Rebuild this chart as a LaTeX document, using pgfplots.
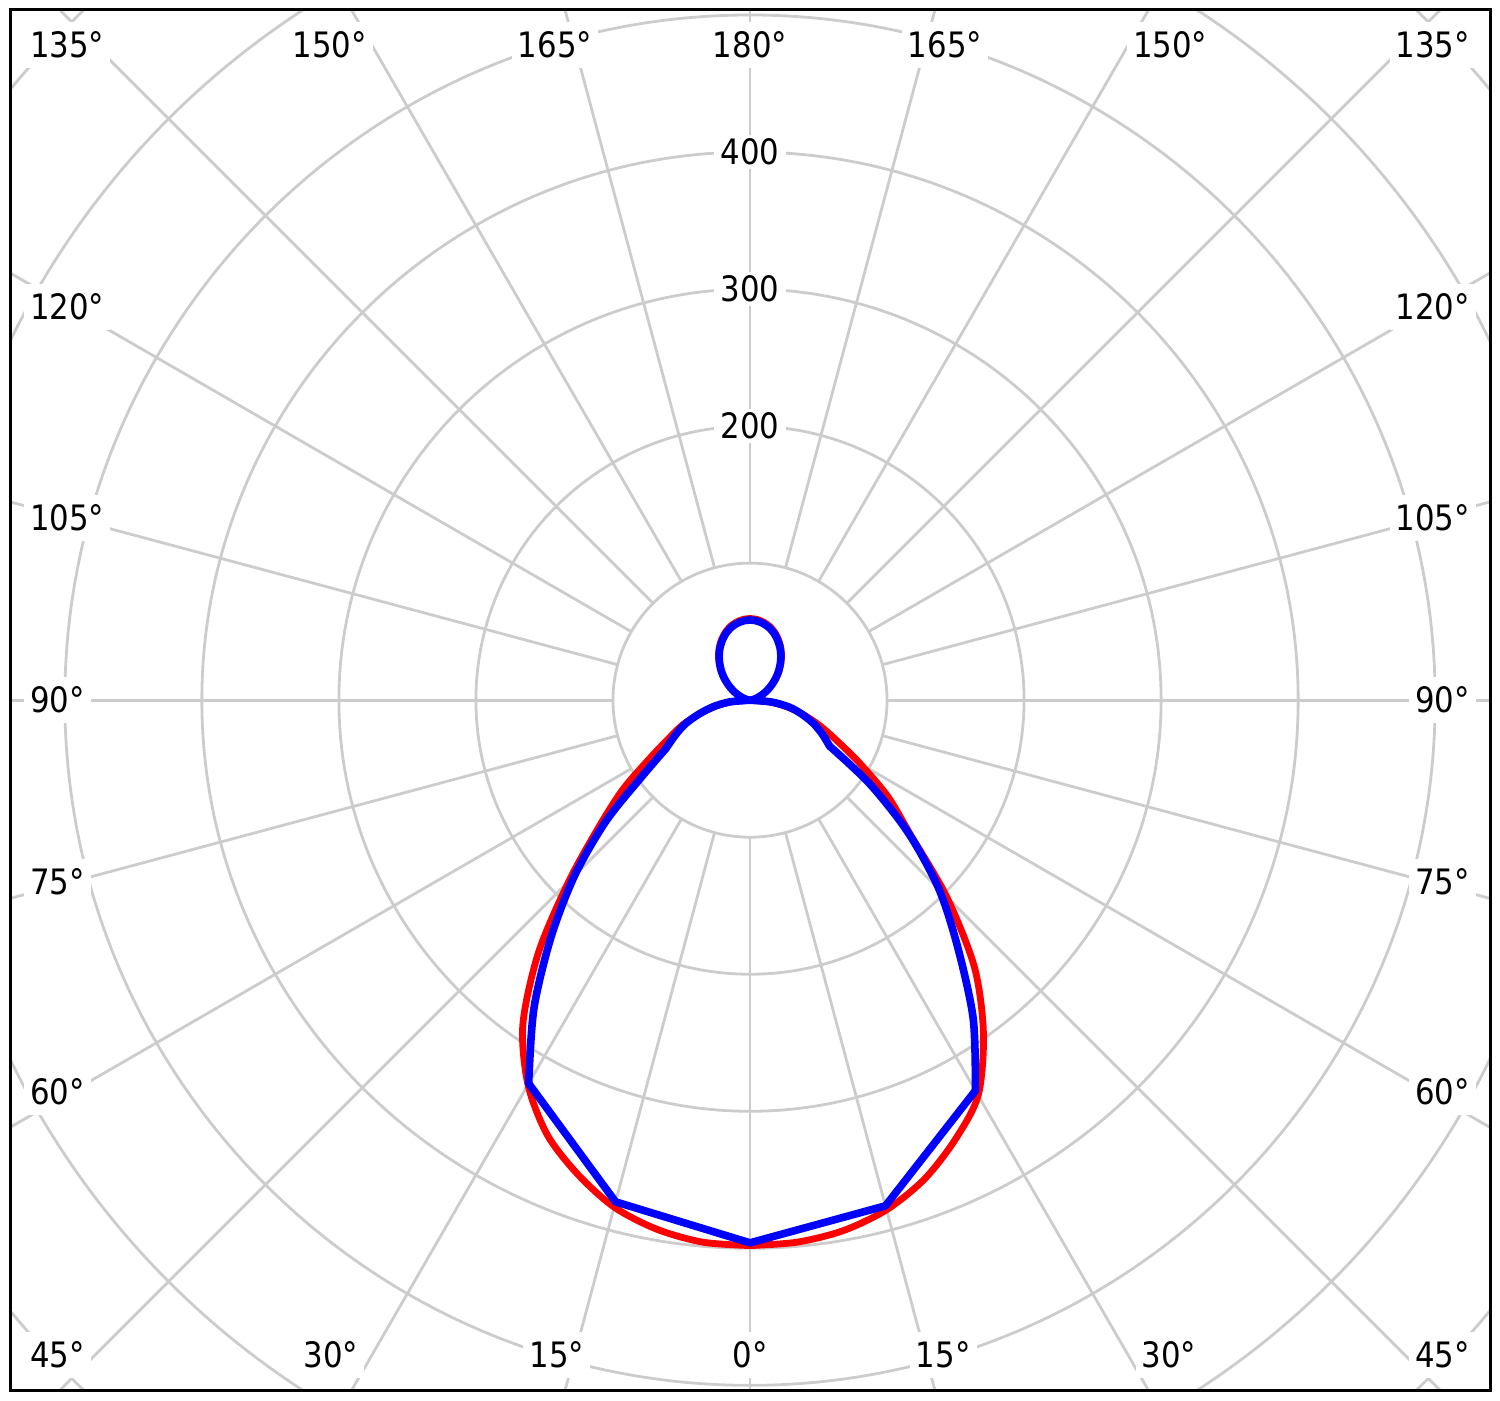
\documentclass[border=0pt]{standalone}
\usepackage{pgfplots}
\pgfplotsset{compat=1.18}
\usepackage{pgfplotstable}
\usepackage{fontspec}
\setmainfont{DejaVu Sans}[FakeStretch=0.88]
\definecolor{gridgray}{RGB}{204,204,204}
\tikzset{
  lbl/.style={font=\fontsize{17.5}{20}\selectfont, fill=white, inner xsep=3pt, inner ysep=5pt},
  rlbl/.style={font=\fontsize{17.5}{20}\selectfont, fill=white, inner xsep=3.5pt, inner ysep=2pt},
}

% g = angle (deg, 0 = down), r = intensity, s = side (1 right, -1 left)
\pgfplotstableread{
g r s
0 398 1
5 397 1
10 393 1
15 385 1
20 372 1
25 354 1
30 333 1
35 297 1
40 255 1
45 203 1
50 153 1
55 123 1
60 93 1
65 70 1
70 54 1
75 40 1
80 27 1
85 14 1
90 0 1
95 0.5 1
100 1.8 1
105 4.0 1
110 6.9 1
115 10.6 1
120 14.9 1
125 19.6 1
130 24.7 1
135 29.9 1
140 35.0 1
145 40.1 1
150 44.8 1
155 49.0 1
160 52.7 1
165 55.7 1
170 57.8 1
175 59.1 1
180 59.6 1
175 59.1 -1
170 57.8 -1
165 55.7 -1
160 52.7 -1
155 49.0 -1
150 44.8 -1
145 40.1 -1
140 35.0 -1
135 29.9 -1
130 24.7 -1
125 19.6 -1
120 14.9 -1
115 10.6 -1
110 6.9 -1
105 4.0 -1
100 1.8 -1
95 0.5 -1
90 0 -1
85 13 -1
80 25 -1
75 38 -1
70 52 -1
65 65 -1
60 84 -1
55 113 -1
50 144 -1
45 187 -1
40 240 -1
35 289 -1
30 324 -1
25 350 -1
20 368 -1
15 383 -1
10 392 -1
5 397 -1
0 398 -1
}\redtable

% blue (C90/C270), in pieces: straight chords near nadir, smooth elsewhere
\pgfplotstableread{
g r s
30 323 -1
15 379 -1
0 396 1
15 382 1
30 329 1
}\blueA
\pgfplotstableread{
g r s
30 329 1
35 284 1
40 236 1
45 195 1
50 151 1
55 107 1
60 67 1
}\blueB
\pgfplotstableread{
g r s
60 67 1
65 58 1
70 49 1
75 39 1
80 29 1
85 16 1
90 0 1
95 0.4 1
100 1.8 1
105 3.9 1
110 6.8 1
115 10.4 1
120 14.6 1
125 19.2 1
130 24.2 1
135 29.3 1
140 34.3 1
145 39.3 1
150 43.9 1
155 48.0 1
160 51.7 1
165 54.6 1
170 56.7 1
175 58.0 1
180 58.5 1
175 58.0 -1
170 56.7 -1
165 54.6 -1
160 51.7 -1
155 48.0 -1
150 43.9 -1
145 39.3 -1
140 34.3 -1
135 29.3 -1
130 24.2 -1
125 19.2 -1
120 14.6 -1
115 10.4 -1
110 6.8 -1
105 3.9 -1
100 1.8 -1
95 0.4 -1
90 0 -1
85 15 -1
80 27 -1
75 38 -1
70 50 -1
65 60 -1
60 71 -1
}\blueC
\pgfplotstableread{
g r s
60 71 -1
55 95 -1
50 137 -1
45 181 -1
40 226 -1
35 275 -1
30 323 -1
}\blueD

\begin{document}
\begin{tikzpicture}
\useasboundingbox (-5pt,-5pt) rectangle (744.8pt,695pt);
\begin{axis}[
  at={(0pt,0pt)}, anchor=south west,
  x=0.685pt, y=0.685pt, scale only axis,
  xmin=-540, xmax=540, ymin=-503.65, ymax=503.65,
  axis line style={black, line width=1.5pt},
  ticks=none, axis on top, clip=true,
]
% grid circles
\pgfplotsinvokeforeach{100,200,300,400,500,600,700}{
  \draw[gridgray, line width=1.4pt] (axis cs:0,0) circle[radius=#1*0.685pt];
}
% radial lines
\pgfplotsinvokeforeach{0,15,...,345}{
  \draw[gridgray, line width=1.4pt] (axis cs:{100*sin(#1)},{-100*cos(#1)}) -- (axis cs:{1000*sin(#1)},{-1000*cos(#1)});
}
% radius labels
\node[rlbl] at (axis cs:0,200) {200};
\node[rlbl] at (axis cs:0,300) {300};
\node[rlbl] at (axis cs:0,400) {400};
% angle labels: top row
\node[lbl, anchor=west] at (axis cs:-530,478) {135°};
\node[lbl] at (axis cs:-306.6,478) {150°};
\node[lbl] at (axis cs:-142.3,478) {165°};
\node[lbl] at (axis cs:0,478) {180°};
\node[lbl] at (axis cs:142.3,478) {165°};
\node[lbl] at (axis cs:306.6,478) {150°};
\node[lbl, anchor=east] at (axis cs:530,478) {135°};
% left column
\node[lbl, anchor=west] at (axis cs:-530,286.9) {120°};
\node[lbl, anchor=west] at (axis cs:-530,132.8) {105°};
\node[lbl, anchor=west] at (axis cs:-530,0) {90°};
\node[lbl, anchor=west] at (axis cs:-530,-132.8) {75°};
\node[lbl, anchor=west] at (axis cs:-530,-286.1) {60°};
\node[lbl, anchor=west] at (axis cs:-530,-478) {45°};
% right column
\node[lbl, anchor=east] at (axis cs:530,286.9) {120°};
\node[lbl, anchor=east] at (axis cs:530,132.8) {105°};
\node[lbl, anchor=east] at (axis cs:530,0) {90°};
\node[lbl, anchor=east] at (axis cs:530,-132.8) {75°};
\node[lbl, anchor=east] at (axis cs:530,-286.1) {60°};
\node[lbl, anchor=east] at (axis cs:530,-478) {45°};
% bottom row
\node[lbl] at (axis cs:-305.8,-478) {30°};
\node[lbl] at (axis cs:-141,-478) {15°};
\node[lbl] at (axis cs:0,-478) {0°};
\node[lbl] at (axis cs:141,-478) {15°};
\node[lbl] at (axis cs:305.8,-478) {30°};
% curves
\addplot[red, line width=3.4pt, line join=round, line cap=round, mark=none, smooth, tension=0.5]
  table[x expr={\thisrow{s}*\thisrow{r}*sin(\thisrow{g})}, y expr={-\thisrow{r}*cos(\thisrow{g})}] {\redtable};
\addplot[blue, line width=3.8pt, line join=round, line cap=round, mark=none]
  table[x expr={\thisrow{s}*\thisrow{r}*sin(\thisrow{g})}, y expr={-\thisrow{r}*cos(\thisrow{g})}] {\blueA};
\addplot[blue, line width=3.8pt, line join=round, line cap=round, mark=none, smooth, tension=0.5]
  table[x expr={\thisrow{s}*\thisrow{r}*sin(\thisrow{g})}, y expr={-\thisrow{r}*cos(\thisrow{g})}] {\blueB};
\addplot[blue, line width=3.8pt, line join=round, line cap=round, mark=none, smooth, tension=0.5]
  table[x expr={\thisrow{s}*\thisrow{r}*sin(\thisrow{g})}, y expr={-\thisrow{r}*cos(\thisrow{g})}] {\blueC};
\addplot[blue, line width=3.8pt, line join=round, line cap=round, mark=none, smooth, tension=0.5]
  table[x expr={\thisrow{s}*\thisrow{r}*sin(\thisrow{g})}, y expr={-\thisrow{r}*cos(\thisrow{g})}] {\blueD};
\end{axis}
\end{tikzpicture}
\end{document}
